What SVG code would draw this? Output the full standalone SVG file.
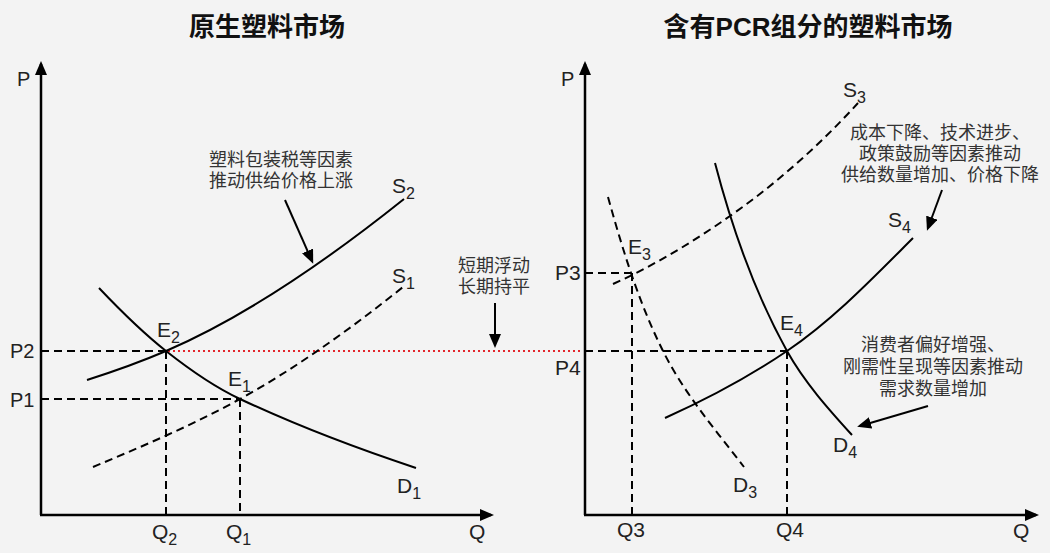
<svg xmlns="http://www.w3.org/2000/svg" width="1050" height="553" viewBox="0 0 1050 553">
<style>
.bg{fill:#f3f3f3}
.title{font-family:"Liberation Sans","Noto Sans CJK SC",sans-serif;font-weight:bold;font-size:26px;fill:#111;text-anchor:middle}
.lbl{font-family:"Liberation Sans",Arial,sans-serif;font-size:21px;fill:#222}
.plbl{font-family:"Liberation Sans",Arial,sans-serif;font-size:20px;fill:#222}
.sub{font-size:16px}
.note{font-family:"Liberation Sans","Noto Sans CJK SC",sans-serif;font-size:18px;fill:#333;text-anchor:middle}
.axis{stroke:#000;stroke-width:2.5;fill:none}
.solid{stroke:#000;stroke-width:2;fill:none}
.dash{stroke:#000;stroke-width:2;fill:none;stroke-dasharray:8,5}
.red{stroke:#e4252c;stroke-width:2;fill:none;stroke-dasharray:2,3}
.arr{stroke:#000;stroke-width:2;fill:none}
</style>
<defs>
<marker id="ah" markerUnits="userSpaceOnUse" markerWidth="14" markerHeight="12" refX="11" refY="6" orient="auto">
<path d="M0,0 L14,6 L0,12 z" fill="#000"/>
</marker>
</defs>
<rect class="bg" x="0" y="0" width="1050" height="553"/>

<g id="titles">
<text class="title" x="267" y="36">原生塑料市场</text>
<text class="title" x="808" y="36">含有PCR组分的塑料市场</text>
</g>

<g id="connectors">
<line class="axis" x1="41" y1="515" x2="41" y2="64" marker-end="url(#ah)"/>
<line class="axis" x1="40" y1="515" x2="491" y2="515" marker-end="url(#ah)"/>
<line class="axis" x1="585" y1="515" x2="585" y2="64" marker-end="url(#ah)"/>
<line class="axis" x1="584" y1="515" x2="1036" y2="515" marker-end="url(#ah)"/>
<line class="dash" x1="41" y1="351" x2="166" y2="351"/>
<line class="dash" x1="41" y1="399" x2="240" y2="399"/>
<line class="dash" x1="166" y1="351" x2="166" y2="515"/>
<line class="dash" x1="240" y1="399" x2="240" y2="515"/>
<line class="red" x1="168" y1="351" x2="583" y2="351"/>
<line class="dash" x1="585" y1="273" x2="631" y2="273"/>
<line class="dash" x1="632" y1="273" x2="632" y2="515"/>
<line class="dash" x1="585" y1="351" x2="787" y2="351"/>
<line class="dash" x1="787" y1="351" x2="787" y2="515"/>
<line class="arr" x1="285" y1="200" x2="312" y2="261" marker-end="url(#ah)"/>
<line class="arr" x1="495" y1="303" x2="495" y2="345" marker-end="url(#ah)"/>
<line class="arr" x1="942" y1="190" x2="928" y2="228" marker-end="url(#ah)"/>
<line class="arr" x1="928" y1="406" x2="860" y2="426" marker-end="url(#ah)"/>
</g>

<g id="D1">
<path class="solid" d="M99,288 C121.3,311.5 143.7,333.4 166,351 C190.7,370.5 215.3,387.4 240,399 C298.7,426.6 357.3,448.6 416,468"/>
</g>
<g id="S2">
<path class="solid" d="M87,380 C113.3,371.6 139.7,362.3 166,351 C245.3,316.9 324.7,262.4 404,199"/>
</g>
<g id="S1">
<path class="dash" d="M93,467 C142,446.4 191,426 240,399 C294.3,369.1 348.7,330.4 403,287"/>
</g>
<g id="D4">
<path class="solid" d="M715,163 C732,228 754.4,292.4 787,351 C804.2,381.9 828.2,408.8 852,435"/>
</g>
<g id="D3">
<path class="dash" d="M608,197 C622.6,249.5 638.6,302.3 663,351 C684.1,393.2 715.2,429.6 744,467"/>
</g>
<g id="S3">
<path class="dash" d="M613,284 C654.1,265.5 693.1,241.8 730,216 C776.6,183.4 819.7,145.1 858,103"/>
</g>
<g id="S4">
<path class="solid" d="M665,418 C707.3,399 748.6,377.1 787,351 C833.6,319.3 873.1,277.9 913,238"/>
</g>

<g id="labels-left">
<text class="plbl" x="17" y="86">P</text>
<text class="plbl" x="10" y="358">P2</text>
<text class="plbl" x="10" y="407">P1</text>
<text class="lbl" x="152" y="539">Q<tspan class="sub" dy="6">2</tspan></text>
<text class="lbl" x="226" y="539">Q<tspan class="sub" dy="6">1</tspan></text>
<text class="lbl" x="157" y="337">E<tspan class="sub" dy="6">2</tspan></text>
<text class="lbl" x="228" y="386">E<tspan class="sub" dy="6">1</tspan></text>
<text class="lbl" x="392" y="193">S<tspan class="sub" dy="6">2</tspan></text>
<text class="lbl" x="392" y="283">S<tspan class="sub" dy="6">1</tspan></text>
<text class="lbl" x="397" y="493">D<tspan class="sub" dy="6">1</tspan></text>
<text class="lbl" x="469" y="539">Q</text>
</g>

<g id="labels-right">
<text class="plbl" x="561" y="86">P</text>
<text class="lbl" x="555" y="280">P3</text>
<text class="lbl" x="555" y="375">P4</text>
<text class="lbl" x="617" y="537">Q3</text>
<text class="lbl" x="776" y="537">Q4</text>
<text class="lbl" x="628" y="254">E<tspan class="sub" dy="6">3</tspan></text>
<text class="lbl" x="780" y="330">E<tspan class="sub" dy="6">4</tspan></text>
<text class="lbl" x="843" y="97">S<tspan class="sub" dy="6">3</tspan></text>
<text class="lbl" x="888" y="227">S<tspan class="sub" dy="6">4</tspan></text>
<text class="lbl" x="733" y="492">D<tspan class="sub" dy="6">3</tspan></text>
<text class="lbl" x="833" y="452">D<tspan class="sub" dy="6">4</tspan></text>
<text class="lbl" x="1013" y="538">Q</text>
</g>

<g id="note-tax">
<text class="note" x="281" y="166">塑料包装税等因素</text>
<text class="note" x="281" y="187">推动供给价格上涨</text>
</g>
<g id="note-mid">
<text class="note" x="494" y="272">短期浮动</text>
<text class="note" x="494" y="293">长期持平</text>
</g>
<g id="note-supply">
<text class="note" x="940" y="139">成本下降、技术进步、</text>
<text class="note" x="940" y="160">政策鼓励等因素推动</text>
<text class="note" x="940" y="181">供给数量增加、价格下降</text>
</g>
<g id="note-demand">
<text class="note" x="933" y="351">消费者偏好增强、</text>
<text class="note" x="933" y="373">刚需性呈现等因素推动</text>
<text class="note" x="933" y="395">需求数量增加</text>
</g>
</svg>
